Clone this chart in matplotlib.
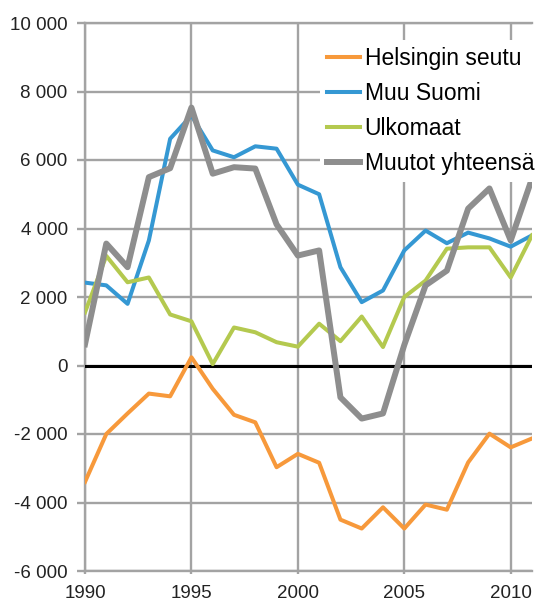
import matplotlib.pyplot as plt
from matplotlib.ticker import FuncFormatter, MultipleLocator

plt.rcParams['font.family'] = ['Liberation Sans', 'DejaVu Sans']

years = list(range(1990, 2012))

# nettomuutto, henkeä
helsingin_seutu = [-3400, -2000, -1400, -820, -900, 240, -680, -1440, -1660, -2970,
                   -2580, -2840, -4500, -4760, -4140, -4760, -4060, -4210, -2830, -1990,
                   -2390, -2130]
muu_suomi = [2420, 2340, 1800, 3650, 6620, 7300, 6280, 6080, 6400, 6330,
             5280, 5000, 2870, 1850, 2190, 3360, 3940, 3570, 3880, 3710,
             3470, 3800]
ulkomaat = [1550, 3200, 2430, 2570, 1490, 1290, 40, 1110, 970, 680,
            550, 1220, 710, 1430, 540, 2000, 2480, 3410, 3450, 3450,
            2570, 3800]
yhteensa = [620, 3560, 2870, 5500, 5760, 7530, 5600, 5790, 5750, 4120,
            3210, 3360, -930, -1550, -1400, 600, 2340, 2770, 4580, 5170,
            3650, 5460]

labels = ['Helsingin seutu', 'Muu Suomi', 'Ulkomaat', 'Muutot yhteensä']
colors = ['#F7993B', '#3598D3', '#B4C94F', '#8E8E8E']

fig = plt.figure(figsize=(5.35, 6.04), dpi=100)
ax = fig.add_axes([85/535, 1-571/604, (532-85)/535, (571-23)/604])

grid_c = '#A3A3A3'
ax.plot(years, helsingin_seutu, color=colors[0], lw=2.9, label=labels[0], zorder=4)
ax.plot(years, muu_suomi, color=colors[1], lw=2.9, label=labels[1], zorder=4)
ax.plot(years, ulkomaat, color=colors[2], lw=2.9, label=labels[2], zorder=4)
ax.plot(years, yhteensa, color=colors[3], lw=4.3, label=labels[3], zorder=5)
ax.axhline(0, color='black', lw=2.2, zorder=3)

ax.set_xlim(1990, 2011)
ax.set_ylim(-6000, 10000)
ax.xaxis.set_major_locator(MultipleLocator(5))
ax.yaxis.set_major_locator(MultipleLocator(2000))
ax.yaxis.set_major_formatter(FuncFormatter(lambda v, p: f"{int(v):,}".replace(",", " ")))
ax.grid(True, color=grid_c, lw=1.7, zorder=1)
ax.set_axisbelow(True)

ax.spines['right'].set_visible(False)
for s in ['left', 'bottom', 'top']:
    ax.spines[s].set_color(grid_c)
    ax.spines[s].set_linewidth(1.7)
ax.tick_params(axis='y', length=5.5, width=1.7, color=grid_c, labelsize=13.5, labelcolor='#222222', pad=7)
ax.tick_params(axis='x', length=2, width=1.7, color=grid_c, labelsize=13.5, labelcolor='#222222', pad=8)

leg = ax.legend(loc='upper left', bbox_to_anchor=(320/535, 1-40/604), bbox_transform=fig.transFigure,
                fontsize=16.5, frameon=True, fancybox=False, framealpha=1, edgecolor='none',
                facecolor='white', handlelength=1.45, handletextpad=0.2, labelspacing=0.52,
                borderpad=0.3, borderaxespad=0)
leg.set_zorder(6)

fig.savefig('out.png', dpi=100)
